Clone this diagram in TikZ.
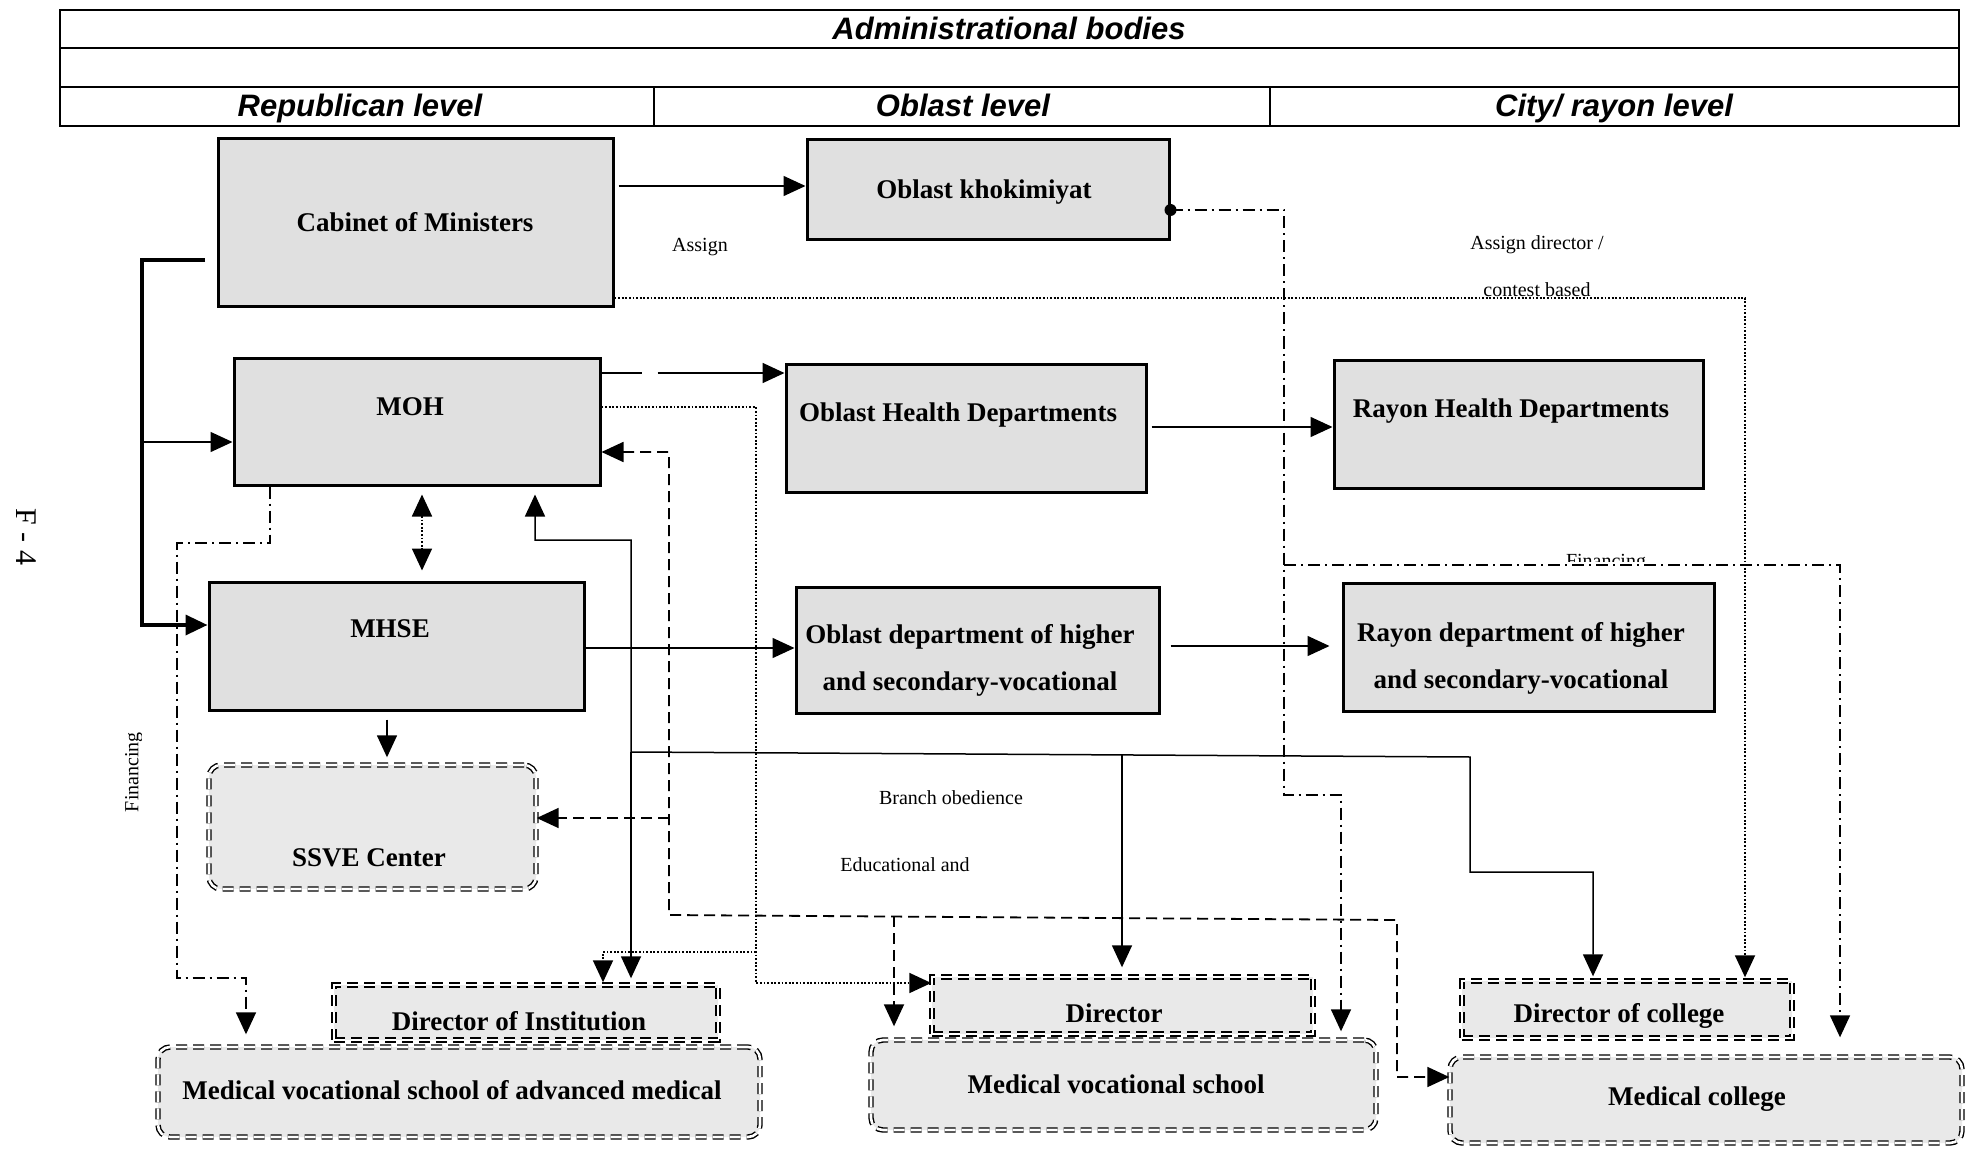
\documentclass[tikz,border=0pt]{standalone}
\usepackage{fontspec}
\setmainfont{Liberation Serif}
\newfontfamily\headfont{Liberation Sans}
\usetikzlibrary{arrows.meta}

\tikzset{
  hdrtext/.style={font=\headfont\bfseries\itshape\fontsize{31}{36}\selectfont, inner sep=0pt, anchor=base},
  solidbox/.style={draw, line width=3pt, fill=gray!24, inner sep=0pt},
  dashbox/.style={draw, line width=1.4pt, double=white, double distance=2.6pt,
                  dash pattern=on 11pt off 6pt, fill=gray!17, inner sep=0pt},
  roundbox/.style={dashbox, rounded corners=12pt},
  boxtext/.style={font=\bfseries\fontsize{27}{47}\selectfont, inner sep=0pt, align=center},
  note/.style={font=\fontsize{20}{24}\selectfont, inner sep=0pt},
  tipend/.style={-{Triangle[length=22pt,width=20pt]}},
  tipboth/.style={{Triangle[length=22pt,width=20pt]}-{Triangle[length=22pt,width=20pt]}},
  solidline/.style={line width=1.5pt},
  thickline/.style={line width=3.5pt},
  dashline/.style={line width=1.8pt, dash pattern=on 11pt off 6pt},
  dotline/.style={line width=1.8pt, dash pattern=on 1.8pt off 1.8pt},
  dashdotline/.style={line width=1.6pt, dash pattern=on 12pt off 5pt on 2pt off 5pt},
}

\begin{document}
\begin{tikzpicture}[x=1pt, y=-1pt]
\useasboundingbox (0,0) rectangle (1969,1155);
\fill[white] (0,0) rectangle (1969,1155);

% ---------- header table ----------
\draw[line width=1.5pt] (60,10) rectangle (1959,126);
\draw[line width=1.5pt] (60,48) -- (1959,48);
\draw[line width=1.5pt] (60,87) -- (1959,87);
\draw[line width=1.2pt] (654,87) -- (654,126);
\draw[line width=1.2pt] (1270,87) -- (1270,126);
\node[hdrtext] (h-title) at (1009,40) {Administrational bodies};
\node[hdrtext] (h-rep)   at (360,117) {Republican level};
\node[hdrtext] (h-obl)   at (963,117) {Oblast level};
\node[hdrtext] (h-city)  at (1614,117) {City/ rayon level};

% page number
\node[font=\fontsize{30}{30}\selectfont, inner sep=0pt, rotate=-90] (pagenum) at (26,537) {F - 4};

% ---------- administrative bodies ----------
\node[solidbox, minimum width=395pt, minimum height=168pt] (cab) at (415.5,223) {};
\node[boxtext] (cab-t) at (415,222) {Cabinet of Ministers};

\node[solidbox, minimum width=362pt, minimum height=100pt] (khok) at (988,190) {};
\node[boxtext] (khok-t) at (984,192) {Oblast khokimiyat};

\node[solidbox, minimum width=366pt, minimum height=127pt] (moh) at (417,421.5) {};
\node[boxtext] (moh-t) at (410,407) {MOH};

\node[solidbox, minimum width=360pt, minimum height=128pt] (ohd) at (966,428) {};
\node[boxtext] (ohd-t) at (958,415) {Oblast Health Departments};

\node[solidbox, minimum width=369pt, minimum height=128pt] (rhd) at (1518.5,424) {};
\node[boxtext] (rhd-t) at (1511,411) {Rayon Health Departments};

\node[solidbox, minimum width=375pt, minimum height=128pt] (mhse) at (396.5,646) {};
\node[boxtext] (mhse-t) at (390,629) {MHSE};

\node[solidbox, minimum width=363pt, minimum height=126pt] (odept) at (977.5,650) {};
\node[boxtext] (odept-t) at (970,660) {Oblast department of higher\\and secondary-vocational};

\node[solidbox, minimum width=371pt, minimum height=128pt] (rdept) at (1528.5,647) {};
\node[boxtext] (rdept-t) at (1521,658) {Rayon department of higher\\and secondary-vocational};

% ---------- institutions ----------
\node[roundbox, minimum width=327pt, minimum height=124pt] (ssve) at (372.5,827) {};
\node[boxtext] (ssve-t) at (369,858) {SSVE Center};

\node[dashbox, minimum width=384pt, minimum height=55pt] (dirI) at (526,1012.5) {};
\node[boxtext] (dirI-t) at (519,1021) {Director of Institution};

\node[roundbox, minimum width=602pt, minimum height=90pt] (mvsa) at (459,1092) {};
\node[boxtext] (mvsa-t) at (452,1090) {Medical vocational school of advanced medical};

\node[dashbox, minimum width=381pt, minimum height=57pt] (dir) at (1122.5,1005.5) {};
\node[boxtext] (dir-t) at (1114,1013) {Director};

\node[roundbox, minimum width=505pt, minimum height=90pt] (mvs) at (1123.5,1085) {};
\node[boxtext] (mvs-t) at (1116,1084) {Medical vocational school};

\node[dashbox, minimum width=330pt, minimum height=57pt] (dirC) at (1627,1009.5) {};
\node[boxtext] (dirC-t) at (1619,1016) {Director of college};

\node[roundbox, minimum width=512pt, minimum height=86pt] (mcol) at (1706,1100) {};
\node[boxtext] (mcol-t) at (1697,1099) {Medical college};

% ---------- junction points ----------
\coordinate (cabout)   at (205,260);
\coordinate (leftbus)  at (142,442);
\coordinate (finfork)  at (1284,565);
\coordinate (eduSSVE)  at (669,818);
\coordinate (eduMVS)   at (894,916);
\coordinate (brDirI)   at (631,752);
\coordinate (brDir)    at (1122,755);
\coordinate (dotDirI)  at (756,952);

% ---------- connectors ----------
% Cabinet assigns oblast khokimiyat
\draw[solidline, tipend] ([xshift=4pt]cab.east |- 0,186) -- (khok.west |- 0,186);

% Cabinet to the ministries
\draw[thickline, tipend] (cabout) -- (142,260) -- (142,625) -- (mhse.west |- 0,625);
\draw[solidline, tipend] (leftbus) -- (moh.west |- 0,442);

% MOH to oblast health departments
\draw[line width=1.8pt, tipend, dash pattern=on 40pt off 16pt on 400pt off 0pt]
  (moh.east |- 0,373) -- (ohd.west |- 0,373);
\draw[solidline, tipend] ([xshift=4pt]ohd.east |- 0,427) -- (rhd.west |- 0,427);

% MOH <-> MHSE
\draw[dotline, tipboth] ([yshift=-8pt]moh.south -| 422,0) -- ([yshift=10pt]mhse.north -| 422,0);

% MHSE chain
\draw[solidline, tipend] (mhse.east |- 0,648) -- (odept.west |- 0,648);
\draw[solidline, tipend, shorten >=12pt] ([xshift=10pt]odept.east |- 0,646) -- (rdept.west |- 0,646);
\draw[solidline, tipend] ([yshift=-8pt]mhse.south -| 387,0) -- ([yshift=7pt]ssve.north -| 387,0);

% Assign director / contest based
\draw[dotline, tipend] (cab.east |- 0,298) -- (1745,298) -- ([yshift=3pt]dirC.north -| 1745,0);

% Oblast khokimiyat: financing
\fill (khok.east |- 0,210) circle (6pt);
\draw[dashdotline, tipend] (khok.east |- 0,210) -- (1284,210) -- (1284,795) -- (1341,795)
  -- ([yshift=8pt]mvs.north -| 1341,0);
\draw[dashdotline, tipend] (finfork) -- (1840,565) -- ([yshift=19pt]mcol.north -| 1840,0);

% MOH: financing
\draw[dashdotline, tipend] (moh.south -| 270,0) -- (270,543) -- (177,543) -- (177,978) -- (246,978)
  -- ([yshift=12pt]mvsa.north -| 246,0);

% Educational and methodical guidance
\draw[dashline, tipboth] (moh.east |- 0,452) -- (669,452) -- (669,915) -- (1397,920) -- (1397,1077)
  -- (mcol.west |- 0,1077);
\draw[dashline, tipend] (eduSSVE) -- (ssve.east |- 0,818);
\draw[dashline, tipend] (eduMVS) -- ([yshift=13pt]mvs.north -| 894,0);

% Branch obedience
\draw[solidline, tipboth] ([yshift=-8pt]moh.south -| 535,0) -- (535,540) -- (631,540) -- (631,752)
  -- (1470,757) -- (1470,872) -- (1593,872) -- ([yshift=4pt]dirC.north -| 1593,0);
\draw[solidline, tipend] (brDirI) -- ([yshift=6pt]dirI.north -| 631,0);
\draw[solidline, tipend] (brDir) -- ([yshift=9pt]dir.north -| 1122,0);

% MOH dotted appointment lines
\draw[dotline, tipend] (moh.east |- 0,407) -- (756,407) -- (756,983) -- (dir.west |- 0,983);
\draw[dotline, tipend] (dotDirI) -- (603,952) -- ([yshift=2pt]dirI.north -| 603,0);

% ---------- labels ----------
\node[note] (l-assign) at (700,247) {Assign};
\node[note] (l-assigndir) at (1537,245) {Assign director /};
\node[note, anchor=base] (l-contest) at (1537,297) {contest based};
\node[note] (l-branch) at (951,798) {Branch obedience};
\node[note] (l-edu) at (905,865) {Educational and};
\begin{scope}
  \clip (1500,530) rectangle (1720,561);
  \node[note, anchor=base] (l-finright) at (1606,567) {Financing};
\end{scope}
\begin{scope}
  \clip (100,700) rectangle (141,850);
  \node[note, rotate=90] (l-finleft) at (134,772) {Financing};
\end{scope}
\end{tikzpicture}
\end{document}
